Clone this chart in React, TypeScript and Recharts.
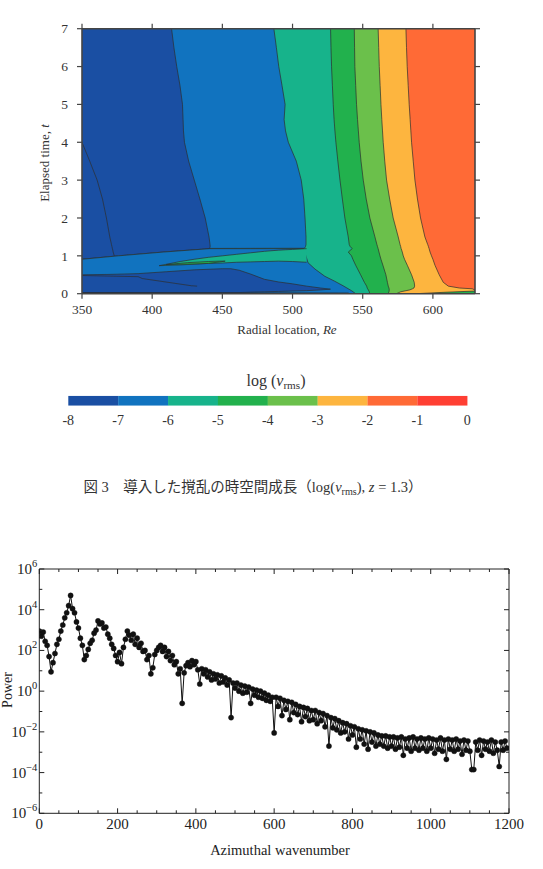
import React from "react";
import { ComposedChart, Area, Bar, Cell, Line, XAxis, YAxis, CartesianGrid } from "recharts";

const SERIF = '"Liberation Serif", "Times New Roman", serif';
const CJK = '"Liberation Serif", "Noto Sans CJK JP", serif';
const INK = "#333";
const CONTOUR = "#2e2e2e";

// ---------- top panel: log(v_rms) contours over (Re, t) ----------
const RE_TICKS = [350, 400, 450, 500, 550, 600];
const T_TICKS = [0, 1, 2, 3, 4, 5, 6, 7];
const RE_DOMAIN: [number, number] = [350, 630];
const T_DOMAIN: [number, number] = [0, 7];

const LEVELS = [-8, -7, -6, -5, -4, -3, -2, -1, 0];
const LEVEL_COLORS = ["#1a4fa3", "#1173bf", "#17b38b", "#22b14d", "#6bc04b", "#fdb53f", "#ff6a36", "#ff3f33"];

// right edge (Re) of each band at elapsed time t
const T_ROWS = [0, 0.05, 0.1, 0.13, 0.15, 0.2, 0.3, 0.5, 0.75, 0.91, 1.0, 1.1, 1.19, 1.2, 1.25, 1.3, 1.5, 2, 2.5, 3, 3.5, 4, 4.3, 4.6, 5, 5.5, 6, 6.5, 7];
const EDGE_YELLOW = [630, 630, 630, 628, 619, 611, 607.4, 604.5, 601.5, 600, 599, 598, 597.3, 597.2, 596.8, 596.3, 594.3, 591.2, 589, 587.2, 586, 584.8, 584.3, 583.8, 583.1, 582.4, 581.7, 581.2, 580.8];
const EDGE_LIGHTGREEN = [574, 577, 583.5, 585.5, 586.5, 587, 586.7, 584.8, 581.8, 579.8, 578.9, 578.2, 577.4, 577.3, 577, 576.6, 575.3, 571.7, 569.2, 567, 565.7, 564.6, 564.1, 563.6, 563, 562.4, 561.8, 561.4, 561];
const EDGE_GREEN = [568, 568.7, 568.9, 568.8, 568.7, 568.2, 567.6, 566.5, 564.4, 563, 562.3, 561.6, 561, 560.9, 560.5, 560.1, 558.7, 555.1, 552.5, 550.4, 548.8, 547.5, 546.9, 546.3, 545.6, 545, 544.4, 544.2, 544];
const EDGE_TEAL = [555, 554.7, 554, 553.5, 553.2, 552.8, 551.2, 548.5, 545, 543, 542, 539.7, 542.5, 542.3, 541, 540.4, 539.7, 537.3, 535.5, 533.8, 532.3, 530.9, 530.2, 529.6, 529, 528.4, 527.8, 527.4, 527.1];
const EDGE_MIDBLUE = [350, 350, 350, 350, 350, 350, 350, 350, 350, 350, 350, 350, 350, 508.5, 509.3, 509.6, 509.6, 508.9, 508, 506.2, 502.7, 497, 495, 494, 494.7, 492.5, 490.2, 488.5, 486.7];
const EDGE_DARKBLUE = [350, 350, 350, 350, 350, 350, 350, 350, 350, 350, 376, 408, 441, 441, 441.3, 441.2, 440.5, 437.8, 434, 430, 426, 423, 422.3, 422, 421.6, 419.8, 417.5, 415.5, 413.8];
const INNER_UPPER = [null, null, null, null, null, null, null, null, null, null, 373, 372.2, 371.7, 371.6, 371.3, 371, 369.8, 367.4, 364.6, 360.8, 355.5, 350, null, null, null, null, null, null, null];

// patches near t = 0, as [low t, high t] at each Re
const MID_RE = [350, 376, 408, 441, 470, 508, 511, 516, 523, 530, 536, 542, 545];
const MID_LO = [0, 0, 0, 0, 0, 0, 0, 0, 0, 0, 0, 0, 0];
const MID_HI = [0.91, 1.0, 1.1, 1.19, 1.19, 1.19, 0.82, 0.65, 0.46, 0.33, 0.21, 0.08, 0];
const DARK_RE = [350, 370, 390, 410, 430, 450, 456, 462, 470, 480, 490, 500, 510, 520, 527];
const DARK_LO = [0.03, 0.03, 0.03, 0.03, 0.03, 0.03, 0.03, 0.03, 0.04, 0.05, 0.06, 0.07, 0.08, 0.1, 0.12];
const DARK_HI = [0.5, 0.51, 0.53, 0.58, 0.63, 0.66, 0.66, 0.62, 0.52, 0.38, 0.31, 0.26, 0.2, 0.15, 0.12];
const STRIP_RE = [350, 540];
const STRIP_LO = [0, 0];
const STRIP_HI = [0.03, 0.02];
const TONGUE_RE = [405, 420, 430, 440, 450, 460, 470, 480, 490, 500, 510];
const TONGUE_LO = [0.74, 0.76, 0.78, 0.8, 0.81, 0.83, 0.84, 0.85, 0.86, 0.85, 0.83];
const TONGUE_HI = [0.74, 0.85, 0.91, 0.96, 1.0, 1.04, 1.08, 1.12, 1.15, 1.17, 1.19];
const CORE_RE = [410, 425, 440, 448, 452];
const CORE_LO = [0.77, 0.78, 0.8, 0.84, 0.86];
const CORE_HI = [0.77, 0.82, 0.85, 0.86, 0.86];
const FOOT_RE = [588, 610, 630];
const FOOT_LO = [0, 0, 0];
const FOOT_HI = [0, 0.04, 0.07];
const INNER_LOWER_RE = [350, 390, 393, 428, 432];
const INNER_LOWER_T = [0.48, 0.45, 0.4, 0.21, 0.2];

// ---------- bottom panel: power spectrum ----------
const K_STEP = 5;
const K_TICKS = [0, 50, 100, 150, 200, 250, 300, 350, 400, 450, 500, 550, 600, 650, 700, 750, 800, 850, 900, 950, 1000, 1050, 1100, 1150, 1200];
const EXP_TICKS = [-6, -5, -4, -3, -2, -1, 0, 1, 2, 3, 4, 5, 6];
// log10(power) at k = 0, 5, 10, ...
const LOG_POWER = [
  2.95, 2.7, 2.9, 2.45, 2.25, 1.7, 0.95, 1.4, 1.85, 2.3,
  2.55, 2.95, 3.25, 3.6, 3.85, 4.2, 4.7, 4.05, 3.85, 3.4,
  3.1, 2.6, 2.25, 1.55, 1.75, 2.05, 2.35, 2.5, 2.85, 3.0,
  3.45, 3.3, 3.35, 3.1, 3.15, 2.8, 2.6, 2.3, 2.1, 1.75,
  1.45, 1.9, 1.35, 2.15, 2.55, 2.95, 2.75, 2.5, 2.8, 2.3,
  2.6, 2.15, 2.35, 1.95, 2.0, 1.55, 1.75, 0.85, 1.15, 1.8,
  2.0, 2.15, 2.25, 1.95, 2.15, 1.7, 1.95, 1.5, 1.75, 1.3,
  1.45, 0.85, 1.1, -0.6, 0.9, 1.25, 1.4, 1.2, 1.5, 1.3,
  1.45, 1.05, 0.35, 1.1, 0.85, 1.05, 0.7, 0.95, 0.55, 0.85,
  0.6, 0.8, 0.4, 0.75, 0.45, 0.65, 0.3, 0.55, -1.3, 0.4,
  0.15, 0.4, 0.0, 0.3, -0.1, 0.25, -0.05, 0.2, -0.6, 0.1,
  -0.2, 0.05, -0.3, 0.0, -0.35, -0.1, -0.45, -0.2, -0.5, -0.3,
  -2.05, -0.3, -0.75, -0.35, -1.2, -0.45, -0.9, -0.5, -1.4, -0.55,
  -1.05, -0.65, -1.15, -0.75, -1.5, -0.8, -1.25, -0.85, -1.45, -0.95,
  -1.4, -0.95, -1.6, -1.05, -1.45, -1.1, -1.75, -1.2, -2.7, -1.3,
  -1.8, -1.35, -1.9, -1.45, -2.05, -1.55, -2.0, -1.6, -2.35, -1.7,
  -2.15, -1.75, -2.75, -1.85, -2.35, -1.9, -2.6, -1.95, -2.85, -2.0,
  -2.5, -2.05, -2.7, -2.15, -2.6, -2.2, -2.7, -2.2, -2.8, -2.25,
  -2.7, -2.25, -2.85, -2.3, -2.75, -2.25, -3.15, -2.35, -2.8, -2.3,
  -2.95, -2.25, -2.8, -2.35, -2.9, -2.3, -2.8, -2.35, -2.95, -2.3,
  -2.8, -2.35, -3.05, -2.4, -2.85, -2.3, -2.95, -2.4, -3.35, -2.35,
  -2.85, -2.4, -2.95, -2.35, -2.85, -2.45, -3.1, -2.4, -2.9, -2.45,
  -2.95, -3.85, -3.85, -2.5, -2.9, -2.4, -3.15, -2.45, -2.85, -2.5,
  -2.95, -2.4, -3.05, -2.5, -2.9, -3.7, -2.5, -2.9, -2.45, -2.8,
];

const bandRows = T_ROWS.map((t, i) => ({
  t,
  yellow: EDGE_YELLOW[i],
  lightGreen: EDGE_LIGHTGREEN[i],
  green: EDGE_GREEN[i],
  teal: EDGE_TEAL[i],
  midBlue: EDGE_MIDBLUE[i],
  darkBlue: EDGE_DARKBLUE[i],
  inner: INNER_UPPER[i],
}));

const lowerRows = (() => {
  const rows = new Map<number, any>();
  const put = (key: string, re: number[], lo: number[], hi: number[]) =>
    re.forEach((r, i) => {
      const row = rows.get(r) ?? { re: r };
      row[key] = [lo[i], hi[i]];
      rows.set(r, row);
    });
  put("mid", MID_RE, MID_LO, MID_HI);
  put("dark", DARK_RE, DARK_LO, DARK_HI);
  put("strip", STRIP_RE, STRIP_LO, STRIP_HI);
  put("tongue", TONGUE_RE, TONGUE_LO, TONGUE_HI);
  put("core", CORE_RE, CORE_LO, CORE_HI);
  put("foot", FOOT_RE, FOOT_LO, FOOT_HI);
  INNER_LOWER_RE.forEach((r, i) => {
    const row = rows.get(r) ?? { re: r };
    row.inner = INNER_LOWER_T[i];
    rows.set(r, row);
  });
  return [...rows.values()].sort((a, b) => a.re - b.re);
})();

const spectrum = LOG_POWER.map((e, i) => ({ k: i * K_STEP, e }));
const colorbarRows = LEVEL_COLORS.map((c, i) => ({ seg: String(LEVELS[i]), lo: LEVELS[i], full: 1 }));

const TOP_W = 543;
const TOP_H = 320;
const TOP_MARGIN = { top: 28.7, right: 68, bottom: 26.3, left: 82 };

const BANDS: [string, string][] = [
  ["yellow", LEVEL_COLORS[5]],
  ["lightGreen", LEVEL_COLORS[4]],
  ["green", LEVEL_COLORS[3]],
  ["teal", LEVEL_COLORS[2]],
  ["midBlue", LEVEL_COLORS[1]],
  ["darkBlue", LEVEL_COLORS[0]],
];

const PATCHES: [string, string][] = [
  ["mid", LEVEL_COLORS[1]],
  ["dark", LEVEL_COLORS[0]],
  ["strip", "#123a82"],
  ["tongue", LEVEL_COLORS[2]],
  ["core", LEVEL_COLORS[3]],
  ["foot", LEVEL_COLORS[3]],
];

const layer: React.CSSProperties = { position: "absolute", left: 0, top: 0 };

function ContourMap() {
  const axisLine = { stroke: "#444", strokeWidth: 1.6 };
  const tickLine = { stroke: "#444", strokeWidth: 1.2 };
  const tick = { fill: INK, fontSize: 13.5, fontFamily: SERIF };
  return (
    <>
      <div style={layer}>
        <ComposedChart layout="vertical" width={TOP_W} height={TOP_H} data={bandRows} margin={TOP_MARGIN}>
          <CartesianGrid horizontal={false} vertical={false} fill={LEVEL_COLORS[6]} fillOpacity={1} />
          <XAxis type="number" domain={RE_DOMAIN} allowDataOverflow hide />
          <YAxis type="number" dataKey="t" domain={T_DOMAIN} allowDataOverflow reversed hide />
          {BANDS.map(([key, color]) => (
            <Area key={key} dataKey={key} type="linear" fill={color} fillOpacity={1} stroke={CONTOUR}
              strokeWidth={0.7} dot={false} activeDot={false} isAnimationActive={false} />
          ))}
          <Line dataKey="inner" type="linear" stroke={CONTOUR} strokeWidth={0.7} dot={false}
            activeDot={false} isAnimationActive={false} />
        </ComposedChart>
      </div>
      <div style={layer}>
        <ComposedChart width={TOP_W} height={TOP_H} data={lowerRows} margin={TOP_MARGIN}>
          <XAxis type="number" dataKey="re" domain={RE_DOMAIN} allowDataOverflow hide />
          <YAxis type="number" domain={T_DOMAIN} allowDataOverflow hide />
          {PATCHES.map(([key, color]) => (
            <Area key={key} dataKey={key} type="linear" connectNulls fill={color} fillOpacity={1}
              stroke={CONTOUR} strokeWidth={0.7} dot={false} activeDot={false} isAnimationActive={false} />
          ))}
          <Line dataKey="inner" type="linear" connectNulls stroke={CONTOUR} strokeWidth={0.7} dot={false}
            activeDot={false} isAnimationActive={false} />
        </ComposedChart>
      </div>
      <div style={layer}>
        <ComposedChart width={TOP_W} height={TOP_H} data={lowerRows}
          margin={{ top: 18.7, right: 58, bottom: 1.3, left: 42 }}>
          <XAxis xAxisId="b" type="number" dataKey="re" domain={RE_DOMAIN} allowDataOverflow ticks={RE_TICKS} interval={0}
            height={25} tickSize={5} tickMargin={6} axisLine={axisLine} tickLine={tickLine} tick={tick} />
          <XAxis xAxisId="t" orientation="top" type="number" dataKey="re" domain={RE_DOMAIN} allowDataOverflow ticks={RE_TICKS}
            interval={0} height={10} tickSize={5} axisLine={axisLine} tickLine={tickLine} tickFormatter={() => ""} />
          <YAxis yAxisId="l" type="number" domain={T_DOMAIN} allowDataOverflow ticks={T_TICKS} interval={0} width={40}
            tickSize={5} tickMargin={9} axisLine={axisLine} tickLine={tickLine} tick={tick} />
          <YAxis yAxisId="r" orientation="right" type="number" domain={T_DOMAIN} allowDataOverflow ticks={T_TICKS} interval={0}
            width={10} tickSize={5} axisLine={axisLine} tickLine={tickLine} tickFormatter={() => ""} />
        </ComposedChart>
      </div>
      <div style={{ position: "absolute", left: 287, top: 330, transform: "translate(-50%, -50%)", whiteSpace: "nowrap", fontSize: 13, color: INK }}>
        Radial location, <i>Re</i>
      </div>
      <div style={{ position: "absolute", left: 45, top: 163, transform: "translate(-50%, -50%) rotate(-90deg)", whiteSpace: "nowrap", fontSize: 13, color: INK }}>
        Elapsed time, <i>t</i>
      </div>
    </>
  );
}

function ColorBar() {
  return (
    <>
      <div style={{ ...layer, top: 360 }}>
        <ComposedChart width={543} height={80} data={colorbarRows} barCategoryGap={0} barGap={0}
          margin={{ top: 35.7, right: 75.7, bottom: 14.3, left: 68.3 }}>
          <XAxis xAxisId="seg" dataKey="seg" type="category" hide />
          <XAxis xAxisId="lab" dataKey="lo" type="number" domain={[-8, 0]} allowDataOverflow ticks={LEVELS} interval={0}
            height={20} axisLine={false} tickLine={false} tickSize={0} tickMargin={9}
            tick={{ fill: INK, fontSize: 14, fontFamily: SERIF }} />
          <YAxis type="number" domain={[0, 1]} allowDataOverflow hide />
          <Bar xAxisId="seg" dataKey="full" isAnimationActive={false}>
            {LEVEL_COLORS.map((c) => (
              <Cell key={c} fill={c} />
            ))}
          </Bar>
        </ComposedChart>
      </div>
      <div style={{ position: "absolute", left: 276, top: 381, transform: "translate(-50%, -50%)", whiteSpace: "nowrap", fontSize: 16, color: INK }}>
        log (<i>v</i><span style={{ fontSize: "0.7em", position: "relative", top: "0.3em" }}>rms</span>)
      </div>
    </>
  );
}

const SPEC_INK = "#222";

function BottomTick({ x, y, payload }: any) {
  const v = payload.value as number;
  const major = v % 200 === 0;
  return (
    <g>
      <line x1={x} y1={y} x2={x} y2={y - (major ? 5 : 3)} stroke={SPEC_INK} />
      {major && (
        <text x={x} y={y + 16} textAnchor="middle" fill={SPEC_INK} fontSize={15} fontFamily={SERIF}>{v}</text>
      )}
    </g>
  );
}

function TopTick({ x, y, payload }: any) {
  const major = (payload.value as number) % 200 === 0;
  return <line x1={x} y1={y} x2={x} y2={y + (major ? 5 : 3)} stroke={SPEC_INK} />;
}

function LeftTick({ x, y, payload }: any) {
  const n = payload.value as number;
  const major = n % 2 === 0;
  const exp = n < 0 ? `\u2212${-n}` : `${n}`;
  return (
    <g>
      <line x1={x} y1={y} x2={x + (major ? 5 : 3)} y2={y} stroke={SPEC_INK} />
      {major && (
        <text x={x - 2} y={y + 5} textAnchor="end" fill={SPEC_INK} fontSize={15} fontFamily={SERIF}>
          10<tspan dy={-7} fontSize={10.5}>{exp}</tspan>
        </text>
      )}
    </g>
  );
}

function RightTick({ x, y, payload }: any) {
  const major = (payload.value as number) % 2 === 0;
  return <line x1={x} y1={y} x2={x - (major ? 5 : 3)} y2={y} stroke={SPEC_INK} />;
}

function Spectrum() {
  const frame = { stroke: SPEC_INK, strokeWidth: 1 };
  return (
    <>
      <div style={{ ...layer, top: 540 }}>
        <ComposedChart width={543} height={329} data={spectrum} margin={{ top: 24, right: 29, bottom: 35.7, left: 9.3 }}>
          <XAxis xAxisId="b" type="number" dataKey="k" domain={[0, 1200]} allowDataOverflow ticks={K_TICKS} interval={0} height={20}
            tickSize={0} tickMargin={0} axisLine={frame} tickLine={false} tick={<BottomTick />} />
          <XAxis xAxisId="t" orientation="top" type="number" dataKey="k" domain={[0, 1200]} allowDataOverflow ticks={K_TICKS} interval={0}
            height={5} tickSize={0} tickMargin={0} axisLine={frame} tickLine={false} tick={<TopTick />} />
          <YAxis yAxisId="l" type="number" domain={[-6, 6]} allowDataOverflow ticks={EXP_TICKS} interval={0} width={30}
            tickSize={0} tickMargin={0} axisLine={frame} tickLine={false} tick={<LeftTick />} />
          <YAxis yAxisId="r" orientation="right" type="number" domain={[-6, 6]} allowDataOverflow ticks={EXP_TICKS} interval={0} width={5}
            tickSize={0} tickMargin={0} axisLine={frame} tickLine={false} tick={<RightTick />} />
          <Line xAxisId="b" yAxisId="l" dataKey="e" type="linear" stroke="#111" strokeWidth={1}
            dot={{ r: 2.6, fill: "#111", stroke: "#111", strokeWidth: 0.4 }} activeDot={false} isAnimationActive={false} />
        </ComposedChart>
      </div>
      <div style={{ position: "absolute", left: 280, top: 850, transform: "translate(-50%, -50%)", whiteSpace: "nowrap", fontSize: 14.5, color: SPEC_INK }}>
        Azimuthal wavenumber
      </div>
      <div style={{ position: "absolute", left: 8, top: 690, transform: "translate(-50%, -50%) rotate(-90deg)", whiteSpace: "nowrap", fontSize: 14, lineHeight: "14px", color: SPEC_INK }}>
        Power
      </div>
    </>
  );
}

export default function App() {
  return (
    <div style={{ position: "absolute", left: 0, top: 0, width: 543, height: 869, background: "#fff", overflow: "hidden", fontFamily: SERIF }}>
      <ContourMap />
      <ColorBar />
      <div style={{ position: "absolute", left: 253, top: 485, transform: "translate(-50%, -50%)", whiteSpace: "nowrap", fontSize: 14.5, color: INK, fontFamily: CJK }}>
        図 3　導入した撹乱の時空間成長（log(<i>v</i><span style={{ fontSize: "0.7em", position: "relative", top: "0.3em" }}>rms</span>), <i>z</i> = 1.3）
      </div>
      <Spectrum />
    </div>
  );
}
